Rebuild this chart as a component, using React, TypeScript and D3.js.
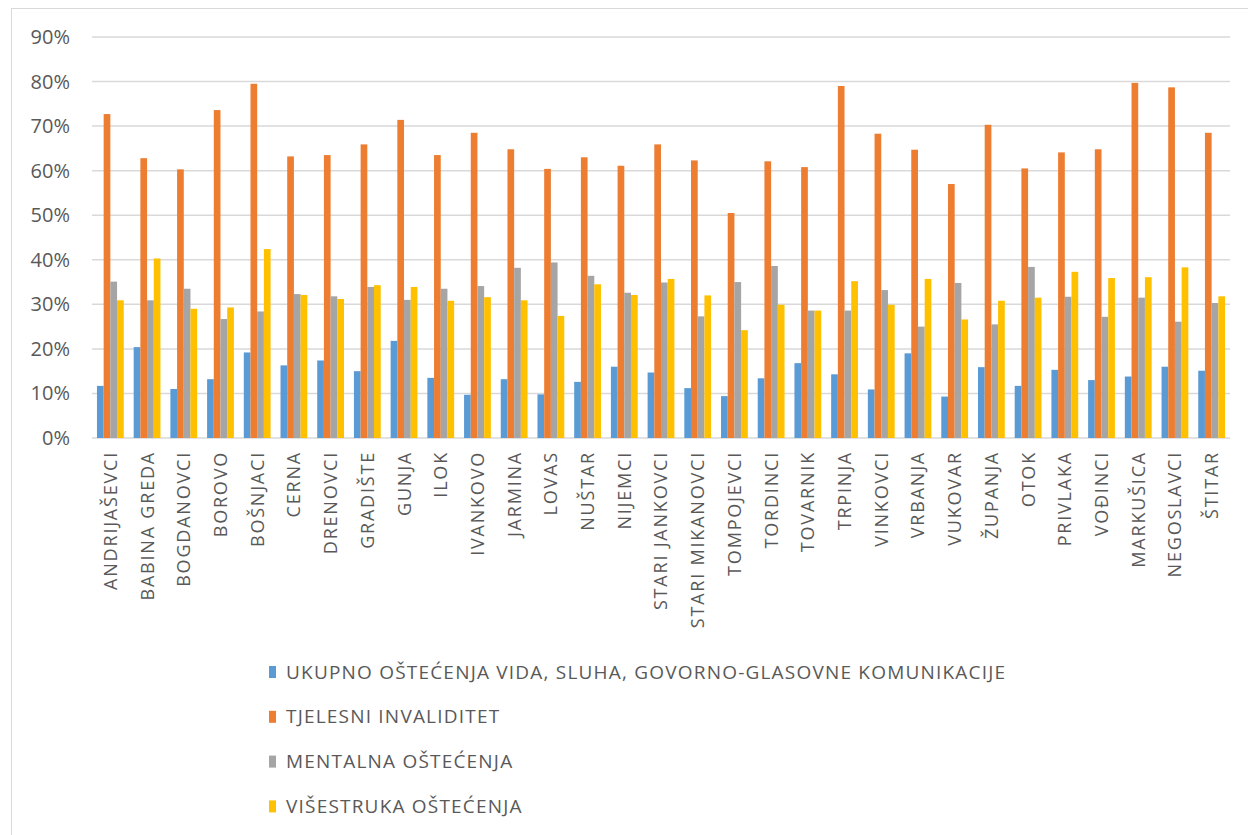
import React from 'react'
import * as d3 from 'd3'

const categories = [
  'ANDRIJAŠEVCI', 'BABINA GREDA', 'BOGDANOVCI', 'BOROVO', 'BOŠNJACI', 'CERNA', 'DRENOVCI',
  'GRADIŠTE', 'GUNJA', 'ILOK', 'IVANKOVO', 'JARMINA', 'LOVAS', 'NUŠTAR', 'NIJEMCI',
  'STARI JANKOVCI', 'STARI MIKANOVCI', 'TOMPOJEVCI', 'TORDINCI', 'TOVARNIK', 'TRPINJA',
  'VINKOVCI', 'VRBANJA', 'VUKOVAR', 'ŽUPANJA', 'OTOK', 'PRIVLAKA', 'VOĐINCI', 'MARKUŠICA',
  'NEGOSLAVCI', 'ŠTITAR',
]

const ukupno = [
  11.7, 20.4, 11.0, 13.2, 19.2, 16.3, 17.4, 15.0, 21.8, 13.5, 9.7, 13.2, 9.8, 12.6, 16.0,
  14.7, 11.2, 9.4, 13.4, 16.8, 14.3, 10.9, 19.0, 9.3, 15.9, 11.7, 15.3, 13.0, 13.8, 16.0, 15.1,
]
const tjelesni = [
  72.7, 62.8, 60.3, 73.6, 79.5, 63.2, 63.5, 65.9, 71.4, 63.5, 68.5, 64.8, 60.4, 63.0, 61.1,
  65.9, 62.3, 50.5, 62.1, 60.8, 79.0, 68.3, 64.7, 57.0, 70.3, 60.5, 64.1, 64.8, 79.7, 78.7, 68.5,
]
const mentalna = [
  35.1, 30.9, 33.5, 26.7, 28.4, 32.3, 31.8, 33.9, 31.0, 33.5, 34.1, 38.2, 39.4, 36.4, 32.6,
  34.9, 27.3, 35.0, 38.6, 28.6, 28.6, 33.2, 25.0, 34.8, 25.5, 38.4, 31.7, 27.2, 31.5, 26.1, 30.3,
]
const visestruka = [
  30.9, 40.3, 29.0, 29.3, 42.4, 32.1, 31.2, 34.3, 33.9, 30.8, 31.6, 30.9, 27.4, 34.5, 32.1,
  35.7, 32.0, 24.2, 29.9, 28.6, 35.2, 29.9, 35.7, 26.6, 30.8, 31.5, 37.3, 35.9, 36.1, 38.3, 31.8,
]

const seriesNames = [
  'UKUPNO OŠTEĆENJA VIDA, SLUHA, GOVORNO-GLASOVNE KOMUNIKACIJE',
  'TJELESNI INVALIDITET',
  'MENTALNA OŠTEĆENJA',
  'VIŠESTRUKA OŠTEĆENJA',
]
const seriesValues = [ukupno, tjelesni, mentalna, visestruka]
const colors = ['#5B9BD5', '#ED7D31', '#A5A5A5', '#FFC000']
const yTicks = [0, 10, 20, 30, 40, 50, 60, 70, 80, 90]

const WIDTH = 1248
const HEIGHT = 835
const margin = { top: 37, left: 92, right: 18, bottom: 397 }
const textColor = '#595959'
const font = "'Open Sans', sans-serif"

export default function App() {
  const plotW = WIDTH - margin.left - margin.right
  const plotH = HEIGHT - margin.top - margin.bottom

  const x = d3.scaleBand<string>().domain(categories).range([0, plotW]).padding(0)
  const bw = x.bandwidth()
  // Excel-like gap width ~148%
  const gap = (bw * 1.48) / 5.48
  const xInner = d3.scaleBand<number>()
    .domain(d3.range(seriesNames.length))
    .range([gap / 2, bw - gap / 2])
    .padding(0)
  const y = d3.scaleLinear().domain([0, 90]).range([plotH, 0])

  return (
    <svg
      width={WIDTH}
      height={HEIGHT}
      style={{ position: 'absolute', left: 0, top: 0, background: '#fff', fontFamily: font }}
    >
      <rect x={11.5} y={8.5} width={WIDTH + 20} height={HEIGHT + 20} fill="#fff" stroke="#d9d9d9" />
      <g transform={`translate(${margin.left},${margin.top})`}>
        {/* grid + y labels */}
        {yTicks.map(t => (
          <g key={t}>
            <line x1={0} x2={plotW} y1={y(t)} y2={y(t)} stroke="#d9d9d9" strokeWidth={1.5} />
            <text
              x={-22}
              y={y(t)}
              dy="0.35em"
              textAnchor="end"
              fontSize={20}
              fill={textColor}
            >
              {`${t}%`}
            </text>
          </g>
        ))}

        {/* bars */}
        {categories.map((c, i) => (
          <g key={c} transform={`translate(${x(c)},0)`}>
            {seriesValues.map((vals, s) => (
              <rect
                key={s}
                x={xInner(s)}
                y={y(vals[i])}
                width={xInner.bandwidth()}
                height={plotH - y(vals[i])}
                fill={colors[s]}
              />
            ))}
          </g>
        ))}

        {/* category labels */}
        {categories.map(c => {
          const cx = (x(c) ?? 0) + bw / 2
          return (
            <text
              key={c}
              transform={`translate(${cx},${plotH + 13}) rotate(-90)`}
              dy="0.36em"
              textAnchor="end"
              fontSize={18}
              letterSpacing={1.8}
              fill={textColor}
            >
              {c}
            </text>
          )
        })}
      </g>

      {/* legend */}
      <g transform="translate(269,672)">
        {seriesNames.map((name, s) => (
          <g key={name} transform={`translate(0,${s * 44.8})`}>
            <rect x={0} y={-6} width={7} height={12} fill={colors[s]} />
            <text x={17} y={0} dy="0.35em" fontSize={19} letterSpacing={1.2} fill={textColor}>
              {name}
            </text>
          </g>
        ))}
      </g>
    </svg>
  )
}
